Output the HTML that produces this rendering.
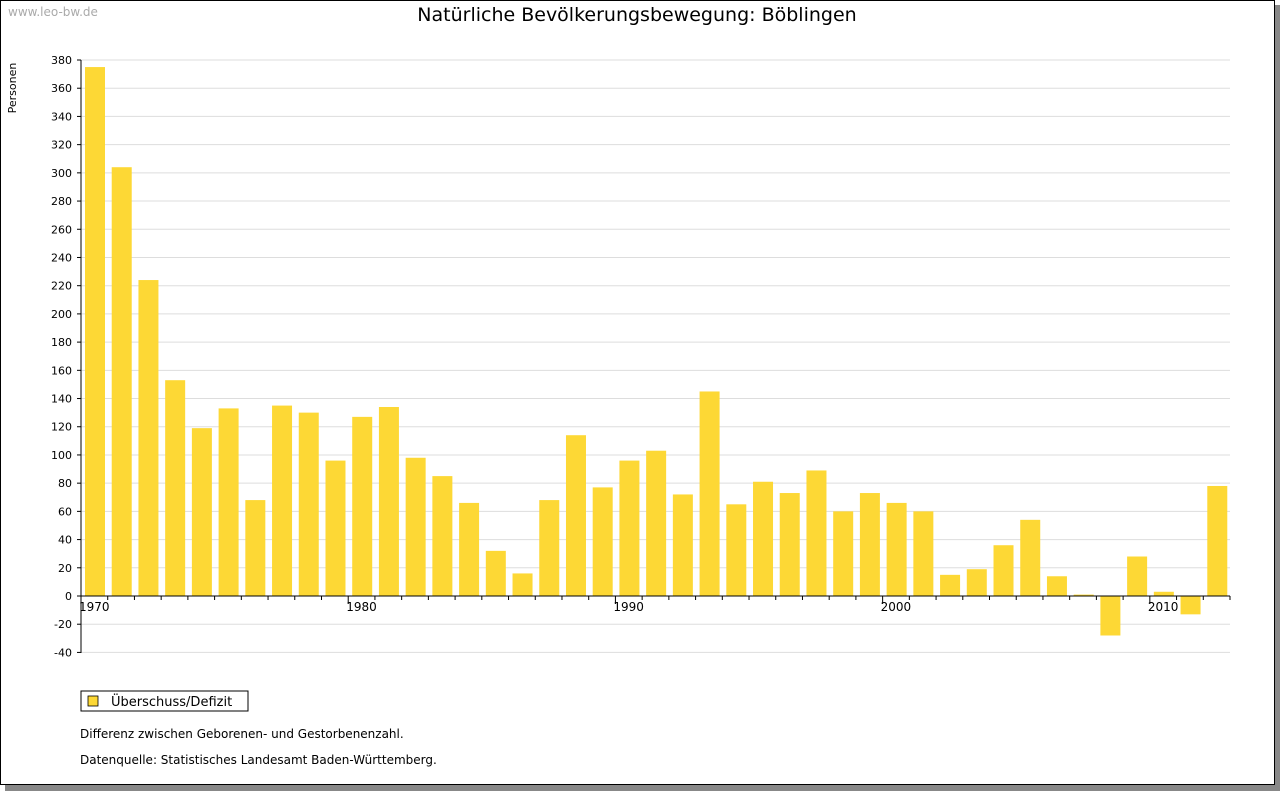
<!DOCTYPE html>
<html><head><meta charset="utf-8"><style>
body{margin:0;background:#fff;}
svg text{font-family:"DejaVu Sans","Liberation Sans",sans-serif;}
</style></head><body>
<svg width="1280" height="791" xmlns="http://www.w3.org/2000/svg">
<rect x="5" y="5" width="1275" height="786" fill="#888"/>
<rect x="0.5" y="0.5" width="1274" height="784" fill="#fff" stroke="#000"/>
<text x="8" y="16" font-size="12" fill="#aaa">www.leo-bw.de</text>
<text x="637" y="21" font-size="19" text-anchor="middle">Natürliche Bevölkerungsbewegung: Böblingen</text>
<text x="16" y="88" font-size="11" transform="rotate(-90 16 88)" text-anchor="middle">Personen</text>
<g id="g"></g>
<rect x="81" y="691" width="167" height="20" fill="#fff" stroke="#000"/>
<rect x="88" y="696" width="10" height="10" fill="#fdd835" stroke="#000" stroke-width="0.8"/>
<text x="111" y="706" font-size="13">Überschuss/Defizit</text>
<text x="80" y="738" font-size="12">Differenz zwischen Geborenen- und Gestorbenenzahl.</text>
<text x="80" y="764" font-size="12">Datenquelle: Statistisches Landesamt Baden-Württemberg.</text>
</svg>
<script>
var v=[375,304,224,153,119,133,68,135,130,96,127,134,98,85,66,32,16,68,114,77,96,103,72,145,65,81,73,89,60,73,66,60,15,19,36,54,14,1,-28,28,3,-13,78];
var s='',k=1.4105,z=596;
for(var y=-40;y<=380;y+=20){var py=z-y*k;
s+='<line x1="81" x2="1230" y1="'+py+'" y2="'+py+'" stroke="#ddd"/>';
s+='<line x1="77" x2="81" y1="'+py+'" y2="'+py+'" stroke="#000"/>';
s+='<text x="72" y="'+(py+4)+'" font-size="11" text-anchor="end">'+y+'</text>';}
var w=1149/43;
for(var i=0;i<43;i++){var x=81+i*w+4,h=v[i]*k;
s+='<rect x="'+x+'" y="'+(h>=0?z-h:z)+'" width="20" height="'+Math.abs(h)+'" fill="#fdd835"/>';
s+='<line x1="'+(81+i*w)+'" x2="'+(81+i*w)+'" y1="596" y2="'+(i%10==0?604:600)+'" stroke="#000"/>';
if(i%10==0)s+='<text x="'+(81+i*w-2)+'" y="611" font-size="12">'+(1970+i)+'</text>';}
s+='<line x1="1230" x2="1230" y1="596" y2="600" stroke="#000"/>';
s+='<line x1="81" x2="1230" y1="596" y2="596" stroke="#000"/>';
s+='<line x1="81" x2="81" y1="60" y2="653" stroke="#000"/>';
document.getElementById('g').innerHTML=s;
</script>
</body></html>
